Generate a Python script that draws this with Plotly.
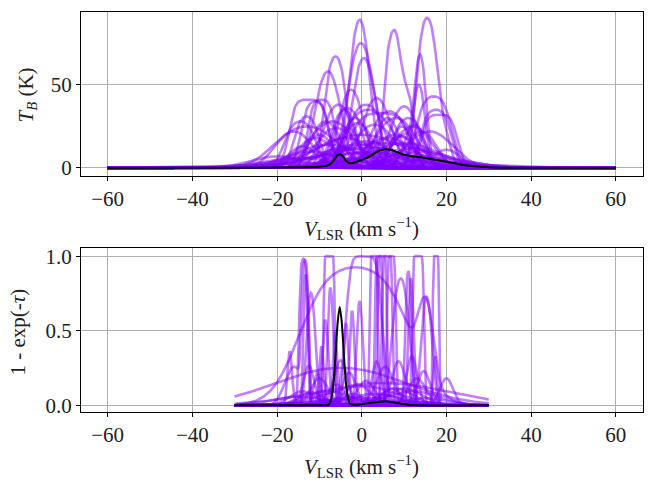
import numpy as np
import plotly.graph_objects as go

# ---------------- data ----------------
# Top panel: brightness-temperature samples, each made of one or more
# line components (curve id, peak T_B [K], centre [km/s], width [km/s], opacity)
TB_CURVE  = [0, 1, 1, 2, 2, 3, 3, 4, 5, 6, 7, 8, 9, 10, 11, 12, 13, 14, 15, 16, 17, 18, 19,
             20, 21, 22, 23, 24, 25, 26, 27, 28, 29, 30, 31, 32, 33, 34, 35, 36, 37, 38, 39,
             40, 41, 42, 43, 44, 45, 46, 47, 48, 49, 50, 51, 52, 53, 54, 55, 56, 57, 58, 59,
             60, 61, 62, 63, 64, 65, 66, 67, 68, 69, 70, 71, 72, 73, 74, 75, 76, 77, 78, 79]
TB_PEAK   = [89, 76, 46, 88.5, 22, 58, 20, 75, 66, 67, 58, 47, 41, 41, 42, 37, 35, 33, 31, 25, 32, 20, 15,
             50, 43, 38, 35, 30, 28, 27, 25, 22, 22, 20, 18, 18, 15, 14, 12, 12, 10, 10, 9,
             8, 8, 7, 6, 6, 5, 5, 4, 3, 3, 16, 24, 30, 26, 13, 19, 11, 14, 10, 7,
             40, 36, 38, 34, 30, 28, 26, 24, 22, 35, 28, 20, 18, 16, 25, 30, 12, 12, 9, 9]
TB_CENTER = [-0.5, 7.0, 10.5, 15.2, 19, 13.9, 10, -0.2, 0.5, -6.2, -8.0, -2.5, -12.5, -9.5, 3.5, 10, -4, 4.5, -13, -13, 18.3, 0, 5,
             13.5, 17, -5.5, 1.5, 8, -7, -1, 12, -16, 16, -10, 6, -4, 10, -8, 2, -2, 14, -12, 0,
             8, -6, 4, -15, 18, -3, 10, 0, 6, -9, 3, -3, 6, 12.5, -14, 9, 20, -1, 3, -20,
             -11, -3.5, 1, 6.5, 11, -8.5, 3, -6, 14, 17.5, -14.5, 8, -11, 1, 9.5, -1.5, -5, 12, -1, 6]
TB_WIDTH  = [2.0, 1.3, 1.5, 1.7, 1.5, 1.1, 3, 2.6, 2.3, 1.8, 2.5, 2.4, 2.3, 1.8, 2.8, 2.8, 2.2, 4, 2, 6, 2.2, 10, 12,
             1.2, 2.5, 3, 5, 4, 5, 3, 4, 4, 5, 3, 6, 7, 8, 8, 12, 4, 6, 6, 15,
             3, 3, 9, 8, 7, 5, 10, 20, 4, 4, 2.5, 2, 2.5, 2, 3, 3, 3, 9, 5, 6,
             2.0, 2.5, 3, 3, 2.5, 3, 4, 4, 3, 2.2, 2.5, 5, 4, 6, 2, 2.5, 5, 5, 6, 7]
TB_TAU    = [1.0, 1.5, 1, 1.5, 1, 1, 0.5, 1.0, 1.0, 2, 1, 1, 6, 4, 1, 1, 1, 4, 2, 1, 5, 0.1, 0.1,
             1, 3, 1, 1, 1, 0.5, 1, 0.5, 0.5, 0.5, 0.5, 0.1, 0.1, 0.1, 0.1, 0.1, 0.5, 0.1, 0.1, 0.1,
             0.1, 0.1, 0.1, 0.1, 0.1, 0.1, 0.1, 0.1, 0.1, 0.1, 0.3, 0.5, 1, 1, 0.5, 1, 0.5, 0.1, 0.5, 0.1,
             3, 2, 2, 2, 2, 1, 1, 1, 1, 3, 2, 0.5, 0.5, 0.5, 1, 1, 0.1, 0.1, 0.1, 0.1]

# Bottom panel: optical-depth samples (curve id, peak tau, centre [km/s], width [km/s])
TAU_CURVE  = [0, 1, 1, 2, 3, 4, 5, 5, 6, 7, 8, 9, 10, 11, 12, 13, 14, 15, 16, 17, 18, 19, 20, 21, 22,
              23, 24, 25, 26, 27, 28, 29, 30, 31, 32, 33, 34, 35, 36, 37, 38, 39, 40, 41, 42,
              43, 44, 45, 46, 47, 48, 49, 50, 51, 52, 53, 54, 55, 56, 57, 58, 59, 60]
TAU_PEAK   = [4, 3.5, 0.3, 2.1, 30, 8, 2.6, 1.0, 20, 20, 12, 1.9, 2.3, 1.9, 20, 20, 1.3, 1.2, 1.0, 1.4, 0.85, 1.55, 0.8, 15, 10,
              0.45, 0.31, 0.36, 0.35, 0.26, 0.4, 0.29, 0.163, 0.14, 0.1, 0.08, 0.06, 0.12, 0.05, 0.09, 0.07, 0.04, 0.1, 0.2, 0.18,
              0.15, 0.05, 0.06, 0.03, 0.12, 0.08, 0.2, 0.25,
              0.5, 0.7, 0.35, 0.4, 0.25, 0.3, 0.15, 0.12, 0.1, 0.2]
TAU_CENTER = [-13.8, -13.4, -16, -13.2, -7.7, 0.5, -1.5, 15, 4.8, 6.0, 7.0, 9.2, 11.0, 11.6, 13.3, 17.5, 15.3, -0.5, -2.3, -12, -8.6, -7.4, -3.7, 2.8, 4.0,
              -17, -12.5, -5, 8.7, 14.6, 17.3, -5, 5, 0, -8, 3, -3, 10, 0, -12, 6, -5, 12, -10, 1,
              -6, 15, -15, 2, 7, -2, 20, -10.5,
              -9.5, -6.3, 3.5, 11.8, -3, 5.5, -1, 8, -14, 13]
TAU_WIDTH  = [0.55, 0.5, 2, 0.4, 0.5, 2.0, 7.9, 1.5, 0.45, 0.5, 0.45, 1.4, 0.5, 0.45, 0.55, 0.3, 1.0, 0.6, 0.5, 0.8, 0.6, 0.5, 0.5, 0.4, 0.4,
              0.5, 1.2, 1.5, 1.5, 1.5, 0.4, 14.2, 15, 8, 5, 6, 4, 4, 10, 3, 3, 8, 6, 2, 2,
              2, 5, 6, 12, 2.5, 2.5, 1.5, 0.8,
              0.5, 0.4, 1, 1.2, 1.5, 2, 3, 4, 3, 2]

# Observed spectra (black)
OBS_TB_V = [-60, -40, -25, -15, -10, -8.5, -7.5, -6.5, -5.8, -5.2, -4.6, -3.8, -3, -2.2, -1.2, 0, 1.2, 2.5, 3.8, 5,
            5.8, 7, 8, 9, 10, 11, 12, 13, 14, 16, 18, 20, 22, 24, 26, 28, 30, 35, 40, 60]
OBS_TB    = [0, 0.1, 0.2, 0.4, 0.8, 1.2, 2.2, 5, 7.5, 8.2, 7.5, 4.5, 3.0, 2.9, 3.8, 4.8, 6.0, 8.0, 10, 11,
             11.3, 10.8, 9.8, 8.8, 8, 7.4, 7.0, 6.8, 6.4, 5.5, 4.6, 3.7, 2.8, 1.8, 1.2, 0.8, 0.5, 0.2, 0.1, 0]
OBS_TAU_V = [-30, -9, -8.2, -7.7, -7.2, -6.7, -6.2, -5.7, -5.2, -4.7, -4.2, -3.7, -3.2, -2.7, -2.0, 0, 2, 4, 5.5,
             7, 9, 11, 13, 30]
OBS_TAU   = [0, 0, 0.001, 0.009, 0.042, 0.14, 0.33, 0.55, 0.66, 0.55, 0.33, 0.14, 0.042, 0.009, 0.004, 0.008, 0.017, 0.025, 0.027,
             0.023, 0.012, 0.004, 0.001, 0]

X_TICKS = [-60, -40, -20, 0, 20, 40, 60]
TB_TICKS = [0, 50]
TAU_TICKS = [0.0, 0.5, 1.0]
TAU_TICK_TEXT = ["0.0", "0.5", "1.0"]

# ---------------- build curves ----------------
v_tb = np.linspace(-60, 60, 601)
v_tau = np.linspace(-30, 30, 601)

n_tb = max(TB_CURVE) + 1
tb_curves = np.zeros((n_tb, v_tb.size))
for k, a, c, w, t in zip(TB_CURVE, TB_PEAK, TB_CENTER, TB_WIDTH, TB_TAU):
    g = np.exp(-0.5 * ((v_tb - c) / w) ** 2)
    tb_curves[k] += a * (1 - np.exp(-t * g)) / (1 - np.exp(-t))

n_tau = max(TAU_CURVE) + 1
tau_curves = np.zeros((n_tau, v_tau.size))
for k, a, c, w in zip(TAU_CURVE, TAU_PEAK, TAU_CENTER, TAU_WIDTH):
    tau_curves[k] += a * np.exp(-0.5 * ((v_tau - c) / w) ** 2)
abs_curves = 1 - np.exp(-tau_curves)

PURPLE = "rgba(127,0,255,0.5)"
FONT = "Liberation Serif"
FS = 21

fig = go.Figure()
for y in tb_curves:
    fig.add_trace(go.Scatter(x=v_tb, y=y, mode="lines", line=dict(color=PURPLE, width=2.6),
                             showlegend=False, hoverinfo="skip", xaxis="x", yaxis="y"))
fig.add_trace(go.Scatter(x=OBS_TB_V, y=OBS_TB, mode="lines", line=dict(color="black", width=2, shape="spline", smoothing=0.8),
                         showlegend=False, xaxis="x", yaxis="y"))
for y in abs_curves:
    fig.add_trace(go.Scatter(x=v_tau, y=y, mode="lines", line=dict(color=PURPLE, width=2.6),
                             showlegend=False, hoverinfo="skip", xaxis="x2", yaxis="y2"))
fig.add_trace(go.Scatter(x=OBS_TAU_V, y=OBS_TAU, mode="lines", line=dict(color="black", width=2, shape="spline", smoothing=0.8),
                         showlegend=False, xaxis="x2", yaxis="y2"))

W, H = 651, 491
x_dom = [81 / W, 642.5 / W]
top_dom = [(H - 176) / H, (H - 9) / H]
bot_dom = [(H - 416) / H, (H - 249) / H]

axis_common = dict(showline=True, linecolor="black", linewidth=1.1, mirror=True,
                   ticks="outside", ticklen=4, tickwidth=1, tickcolor="black",
                   showgrid=True, gridcolor="#b0b0b0", gridwidth=0.9, zeroline=False,
                   tickfont=dict(family=FONT, size=FS, color="#222"))

fig.update_layout(
    width=W, height=H, margin=dict(l=0, r=0, t=0, b=0),
    paper_bgcolor="white", plot_bgcolor="white", showlegend=False,
    xaxis=dict(domain=x_dom, anchor="y", range=[-66.3, 66.3], tickvals=X_TICKS, **axis_common),
    yaxis=dict(domain=top_dom, anchor="x", range=[-4.9, 93.7], tickvals=TB_TICKS, **axis_common),
    xaxis2=dict(domain=x_dom, anchor="y2", range=[-66.3, 66.3], tickvals=X_TICKS, **axis_common),
    yaxis2=dict(domain=bot_dom, anchor="x2", range=[-0.046, 1.055], tickvals=TAU_TICKS,
                ticktext=TAU_TICK_TEXT, **axis_common),
)

xlabel = "<i>V</i><sub>LSR</sub> (km s<sup>−1</sup>)"
lab_font = dict(family=FONT, size=FS, color="#222")
fig.add_annotation(x=0.5 * (x_dom[0] + x_dom[1]), y=(H - 229) / H, xref="paper", yref="paper",
                   text=xlabel, showarrow=False, font=lab_font, xanchor="center", yanchor="middle")
fig.add_annotation(x=0.5 * (x_dom[0] + x_dom[1]), y=(H - 471) / H, xref="paper", yref="paper",
                   text=xlabel, showarrow=False, font=lab_font, xanchor="center", yanchor="middle")
fig.add_annotation(x=27 / W, y=(H - 94) / H, xref="paper", yref="paper",
                   text="<i>T</i><sub><i>B</i></sub> (K)", showarrow=False, font=lab_font, textangle=-90,
                   xanchor="center", yanchor="middle")
fig.add_annotation(x=18 / W, y=(H - 335) / H, xref="paper", yref="paper",
                   text="1 - exp(-<i>τ</i>)", showarrow=False, font=lab_font, textangle=-90,
                   xanchor="center", yanchor="middle")

fig.write_html("out.html")
